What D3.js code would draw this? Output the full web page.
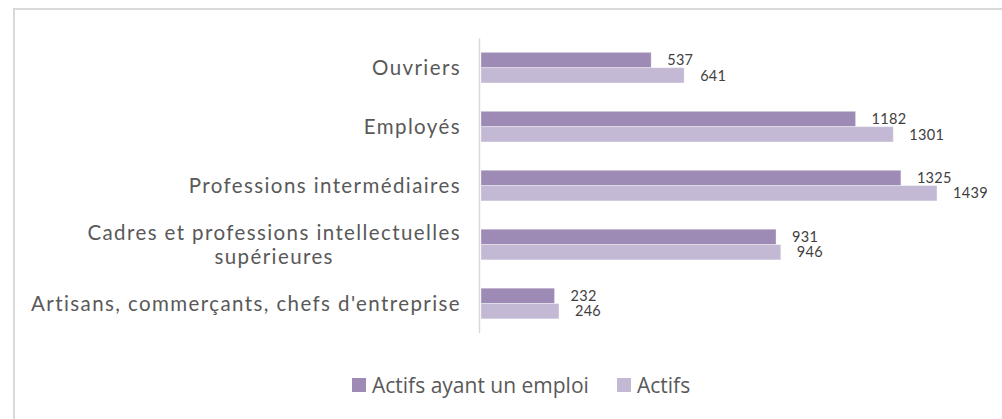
<!DOCTYPE html>
<html>
<head>
<meta charset="utf-8">
<script src="https://cdn.jsdelivr.net/npm/d3@7"></script>
<style>
  body { margin: 0; background: #fff; }
</style>
</head>
<body>
<div class="chart"></div>
<script>
// Data
const categories = [
    "Ouvriers",
    "Employés",
    "Professions intermédiaires",
    "Cadres et professions intellectuelles supérieures",
    "Artisans, commerçants, chefs d'entreprise"
];
// labels may wrap like in the original
const categoryLines = [
    ["Ouvriers"],
    ["Employés"],
    ["Professions intermédiaires"],
    ["Cadres et professions intellectuelles", "supérieures"],
    ["Artisans, commerçants, chefs d'entreprise"]
];
const seriesNames = ["Actifs ayant un emploi", "Actifs"];
const actifsEmploi = [537, 1182, 1325, 931, 232];
const actifs = [641, 1301, 1439, 946, 246];
const seriesColors = ["#9d8ab5", "#c4b9d4"];

const width = 1002;
const height = 419;

const svg = d3.select(".chart")
    .append("svg")
    .attr("width", width)
    .attr("height", height);

// Chart border (right and bottom edges fall outside the picture)
svg.append("rect")
    .attr("x", 14)
    .attr("y", 9)
    .attr("width", 1100)
    .attr("height", 500)
    .attr("fill", "none")
    .attr("stroke", "#d9d9d9")
    .attr("stroke-width", 2);

// Scales
const x = d3.scaleLinear()
    .domain([0, 1600])
    .range([481, 481 + 1600 * 0.3169]);

const y = d3.scaleBand()
    .domain(categories)
    .range([38.2, 333])
    .paddingInner(0.48)
    .paddingOuter(0.24);

const ySub = d3.scaleBand()
    .domain(seriesNames)
    .range([0, y.bandwidth()]);

const rows = categories.map((c, i) => ({
    category: c,
    lines: categoryLines[i],
    values: [actifsEmploi[i], actifs[i]]
}));

// Vertical axis line
svg.append("line")
    .attr("x1", 479.5)
    .attr("x2", 479.5)
    .attr("y1", y.range()[0])
    .attr("y2", y.range()[1])
    .attr("stroke", "#d9d9d9")
    .attr("stroke-width", 1.5);

// Bars + value labels
const group = svg.selectAll(".row")
    .data(rows)
    .join("g")
    .attr("class", "row")
    .attr("transform", d => `translate(0,${y(d.category)})`);

group.selectAll("rect")
    .data(d => d.values.map((v, j) => ({ name: seriesNames[j], value: v, j })))
    .join("rect")
    .attr("x", x(0))
    .attr("y", d => ySub(d.name))
    .attr("width", d => x(d.value) - x(0))
    .attr("height", ySub.bandwidth())
    .attr("fill", d => seriesColors[d.j])
    .attr("stroke", "#ffffff")
    .attr("stroke-opacity", 0.35)
    .attr("stroke-width", 1);

group.selectAll(".val")
    .data(d => d.values.map((v, j) => ({ name: seriesNames[j], value: v, j })))
    .join("text")
    .attr("class", "val")
    .attr("x", d => x(d.value) + 16)
    .attr("y", d => ySub(d.name) + ySub.bandwidth() / 2)
    .attr("dy", "0.36em")
    .style("font-family", "Lato, 'DejaVu Sans', sans-serif")
    .style("font-size", "14.5px")
    .style("letter-spacing", "0.3px")
    .attr("fill", "#404040")
    .text(d => d.value);

// Category labels
const lineHeight = 24;
svg.selectAll(".cat")
    .data(rows)
    .join("text")
    .attr("class", "cat")
    .attr("text-anchor", "middle")
    .style("font-family", "Lato, 'DejaVu Sans', sans-serif")
    .style("font-size", "20.5px")
    .style("letter-spacing", "1.4px")
    .attr("fill", "#595959")
    .each(function (d) {
        const t = d3.select(this);
        const cy = y(d.category) + y.bandwidth() / 2;
        const n = d.lines.length;
        d.lines.forEach((l, k) => {
            t.append("tspan")
                .attr("y", cy + (k - (n - 1) / 2) * lineHeight)
                .attr("dy", "0.36em")
                .text(l);
        });
        // centre each line on the widest one, block right-aligned at x=460
        const spans = t.selectAll("tspan").nodes();
        const widest = d3.max(spans, s => s.getComputedTextLength());
        spans.forEach(s => d3.select(s).attr("x", 461 - widest / 2));
    });

// Legend
const legendItems = [
    { name: seriesNames[0], color: seriesColors[0], x: 352 },
    { name: seriesNames[1], color: seriesColors[1], x: 617 }
];
const legend = svg.selectAll(".legend")
    .data(legendItems)
    .join("g")
    .attr("class", "legend")
    .attr("transform", d => `translate(${d.x},378)`);

legend.append("rect")
    .attr("width", 14)
    .attr("height", 14)
    .attr("fill", d => d.color);

legend.append("text")
    .attr("x", 20)
    .attr("y", 7)
    .attr("dy", "0.36em")
    .style("font-family", "'Open Sans', sans-serif")
    .style("font-size", "21px")
    .attr("fill", "#595959")
    .text(d => d.name);
</script>
</body>
</html>
